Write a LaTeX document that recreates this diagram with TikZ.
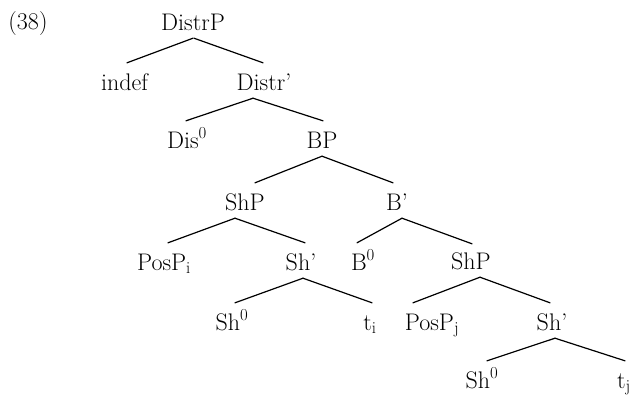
\documentclass[tikz,border=0pt]{standalone}
\usepackage{fontspec}
\begin{document}
\begin{tikzpicture}[x=1pt,y=-1pt,
  lbl/.style={anchor=base, inner sep=0pt, text height=27pt, text depth=8pt, font=\fontsize{24}{28}\selectfont},
  edge/.style={line width=1.2pt, line cap=round}]
\useasboundingbox (0,0) rectangle (629,399);
\node[lbl] (ex) at (28,29) {(38)};
\node[lbl] (distrp) at (193,30) {DistrP};
\node[lbl] (indef) at (124.5,90) {indef};
\node[lbl] (distrb) at (264,90) {Distr’};
\node[lbl] (dis0) at (187,148) {Dis\textsuperscript{0}};
\node[lbl] (bp) at (322,148) {BP};
\node[lbl] (shpa) at (245,210) {ShP};
\node[lbl] (bbar) at (397,210) {B’};
\node[lbl] (pospi) at (164,270) {PosP\textsubscript{i}};
\node[lbl] (shba) at (301,270) {Sh’};
\node[lbl] (b0) at (363,270) {B\textsuperscript{0}};
\node[lbl] (shpb) at (471,269) {ShP};
\node[lbl] (sh0a) at (232,330) {Sh\textsuperscript{0}};
\node[lbl] (ti) at (370,330) {t\textsubscript{i}};
\node[lbl] (pospj) at (432,330) {PosP\textsubscript{j}};
\node[lbl] (shbb) at (552,330) {Sh’};
\node[lbl] (sh0b) at (482,388) {Sh\textsuperscript{0}};
\node[lbl] (tj) at (624,388) {t\textsubscript{j}};
\draw[edge] (distrp.south) -- ([xshift=2.5pt]indef.north);
\draw[edge] ([xshift=1pt]distrp.south) -- ([xshift=-1pt]distrb.north);
\draw[edge] ([xshift=-11pt]distrb.south) -- ([xshift=-1pt]dis0.north);
\draw[edge] ([xshift=-11pt]distrb.south) -- ([xshift=1pt]bp.north);
\draw[edge] (bp.south) -- ([xshift=10pt]shpa.north);
\draw[edge] (bp.south) -- ([xshift=-4pt]bbar.north);
\draw[edge] ([xshift=-10pt]shpa.south) -- ([xshift=4pt]pospi.north);
\draw[edge] ([xshift=-10pt]shpa.south) -- ([xshift=4pt]shba.north);
\draw[edge] ([xshift=5pt]bbar.south) -- ([xshift=-6pt]b0.north);
\draw[edge] ([xshift=5pt]bbar.south) -- ([xshift=1pt,yshift=-2pt]shpb.north);
\draw[edge] ([xshift=2pt]shba.south) -- ([xshift=3pt]sh0a.north);
\draw[edge] ([xshift=2pt]shba.south) -- ([xshift=2pt]ti.north);
\draw[edge] ([xshift=9pt]shpb.south) -- ([xshift=-19pt]pospj.north);
\draw[edge] ([xshift=9pt]shpb.south) -- ([xshift=-2pt]shbb.north);
\draw[edge] ([xshift=3pt]shbb.south) -- ([xshift=5pt]sh0b.north);
\draw[edge] ([xshift=3pt]shbb.south) -- ([xshift=1pt]tj.north);
\end{tikzpicture}
\end{document}
